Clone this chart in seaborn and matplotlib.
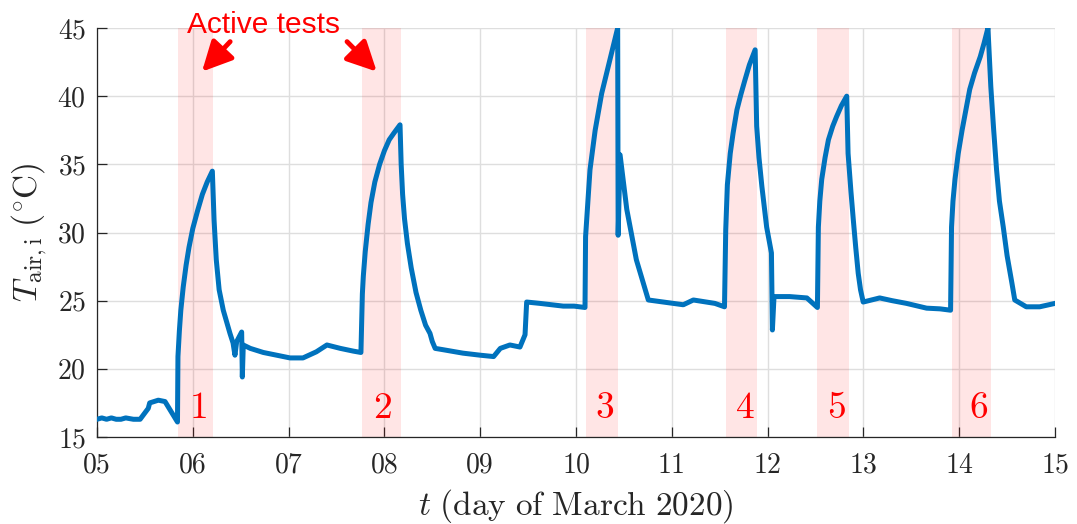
import numpy as np
import pandas as pd
import matplotlib
matplotlib.use("Agg")
import matplotlib.pyplot as plt
import seaborn as sns

# time (day of March 2020) and indoor air temperature (degC)
day = [
    5.00, 5.05, 5.10, 5.15, 5.20, 5.25, 5.30, 5.38, 5.45, 5.535, 5.55,
    5.64, 5.71, 5.78, 5.84,
    # test 1
    5.845, 5.86, 5.875, 5.90, 5.93, 5.96, 6.00, 6.05, 6.10, 6.15, 6.204,
    6.222, 6.245, 6.275, 6.318, 6.388, 6.42, 6.44, 6.458, 6.51, 6.517, 6.527,
    6.60, 6.736, 6.876, 7.015, 7.15, 7.29, 7.40, 7.54, 7.675, 7.755,
    # test 2
    7.763, 7.77, 7.78, 7.80, 7.83, 7.86, 7.90, 7.95, 8.00, 8.05, 8.10, 8.163,
    8.175, 8.19, 8.21, 8.24, 8.28, 8.33, 8.38, 8.43, 8.476, 8.50, 8.53,
    8.615, 8.82, 9.00, 9.14, 9.21, 9.31, 9.415, 9.468, 9.485,
    9.624, 9.75, 9.867, 9.98, 10.094,
    # test 3
    10.10, 10.146, 10.20, 10.268, 10.355, 10.435,
    10.44, 10.46, 10.53, 10.63, 10.755, 10.91, 11.02, 11.12, 11.225,
    11.364, 11.45, 11.55,
    # test 4
    11.563, 11.58, 11.61, 11.64, 11.68, 11.72, 11.76, 11.81, 11.87,
    11.886, 11.91, 11.94, 11.99, 12.04, 12.05, 12.067, 12.23, 12.41, 12.52,
    # test 5
    12.53, 12.545, 12.565, 12.60, 12.635, 12.68, 12.72, 12.77, 12.826,
    12.84, 12.87, 12.895, 12.92, 12.946, 12.97, 12.998, 13.17, 13.30,
    13.45, 13.66, 13.80, 13.91,
    # test 6
    13.92, 13.935, 13.956, 13.99, 14.03, 14.07, 14.11, 14.16, 14.22, 14.26,
    14.30,
    14.33, 14.36, 14.39, 14.42, 14.46, 14.50, 14.55, 14.58, 14.70, 14.84,
    15.00,
]
t_air = [
    16.3, 16.4, 16.3, 16.4, 16.3, 16.3, 16.4, 16.3, 16.3, 17.1, 17.5,
    17.7, 17.6, 16.8, 16.1,
    20.9, 22.8, 24.3, 26.0, 27.6, 28.9, 30.3, 31.6, 32.8, 33.7, 34.5,
    30.9, 28.0, 25.8, 24.3, 22.6, 21.9, 21.0, 22.0, 22.7, 19.4, 21.75,
    21.5, 21.2, 21.0, 20.8, 20.8, 21.25, 21.75, 21.5, 21.3, 21.2,
    23.5, 25.5, 26.8, 28.6, 30.6, 32.2, 33.7, 35.0, 36.0, 36.8, 37.3, 37.9,
    35.0, 32.8, 31.0, 29.2, 27.4, 25.6, 24.3, 23.2, 22.6, 22.0, 21.5,
    21.4, 21.15, 21.0, 20.9, 21.5, 21.75, 21.6, 22.5, 24.9,
    24.8, 24.7, 24.6, 24.6, 24.5,
    29.7, 34.6, 37.5, 40.2, 42.7, 45.0,
    29.8, 35.7, 31.7, 28.0, 25.05, 24.9, 24.8, 24.7, 25.05,
    24.9, 24.8, 24.55,
    30.2, 33.5, 35.8, 37.3, 39.0, 40.1, 41.1, 42.3, 43.4,
    37.8, 35.5, 33.4, 30.4, 28.5, 22.85, 25.3, 25.3, 25.2, 24.5,
    30.4, 32.3, 33.9, 35.5, 36.8, 37.8, 38.5, 39.3, 40.0,
    35.8, 33.0, 30.9, 28.9, 27.0, 25.8, 24.9, 25.2, 25.0,
    24.8, 24.45, 24.4, 24.3,
    30.4, 32.3, 33.9, 35.8, 37.5, 39.0, 40.5, 41.7, 42.9, 43.9,
    45.0,
    40.7, 37.5, 34.6, 32.3, 30.4, 28.3, 26.3, 25.05, 24.55, 24.55,
    24.8,
]

# active test windows
test_start = [5.85, 7.77, 10.10, 11.57, 12.52, 13.93]
test_end = [6.21, 8.17, 10.44, 11.89, 12.85, 14.33]
test_label_x = [6.05, 7.975, 10.30, 11.76, 12.72, 14.20]
test_names = ["1", "2", "3", "4", "5", "6"]

df = pd.DataFrame({"day": day, "T": t_air})

plt.rcParams["mathtext.fontset"] = "cm"
plt.rcParams["font.family"] = "serif"
plt.rcParams["font.serif"] = ["cmr10", "DejaVu Serif"]
plt.rcParams["axes.formatter.use_mathtext"] = True

fig = plt.figure(figsize=(10.77, 5.24), dpi=100)
ax = fig.add_axes([97 / 1077, 1 - 437 / 524, 958 / 1077, 409 / 524])

for s, e in zip(test_start, test_end):
    ax.axvspan(s, e, color="#ff0000", alpha=0.1, lw=0, zorder=1)

sns.lineplot(data=df, x="day", y="T", sort=False, estimator=None,
             color="#0072BD", lw=3.6, ax=ax, zorder=3)

for x, n in zip(test_label_x, test_names):
    ax.text(x, 17.1, "$" + n + "$", color="red", fontsize=27,
            ha="center", va="center", zorder=4)

ax.set_xlim(5, 15)
ax.set_ylim(15, 45)
ax.set_xticks(range(5, 16))
ax.set_xticklabels([f"{d:02d}" for d in range(5, 16)])
ax.set_yticks(range(15, 46, 5))
ax.grid(True, color="#dedede", lw=1.0, zorder=0)
ax.set_axisbelow(True)
for side in ["top", "right"]:
    ax.spines[side].set_visible(False)
for side in ["left", "bottom"]:
    ax.spines[side].set_color("#262626")
    ax.spines[side].set_linewidth(0.9)
ax.tick_params(direction="in", length=7, width=0.9, colors="#262626",
               labelsize=20)
ax.tick_params(axis="x", pad=11)
ax.tick_params(axis="y", pad=8)

ax.set_xlabel(r"$t\ \mathrm{(day\ of\ March\ 2020)}$", fontsize=24,
              color="#262626", labelpad=6)
ax.set_ylabel(r"$T_{\mathrm{air,i}}\ (^{\circ}\mathrm{C})$", fontsize=24,
              color="#262626", labelpad=6)

# annotation
ax.text(6.74, 44.6, "Active tests", color="red", fontsize=21.5,
        family="Liberation Sans", ha="center", va="baseline",
        clip_on=False, zorder=5)
arrow = dict(arrowstyle="-|>,head_length=0.9,head_width=0.45",
             color="red", lw=3.5, mutation_scale=20, shrinkA=0, shrinkB=0)
ax.annotate("", xy=(6.096, 41.8), xytext=(6.39, 44.0), arrowprops=arrow,
            annotation_clip=False)
ax.annotate("", xy=(7.92, 41.8), xytext=(7.61, 44.0), arrowprops=arrow,
            annotation_clip=False)

fig.savefig("out.png", dpi=100)
